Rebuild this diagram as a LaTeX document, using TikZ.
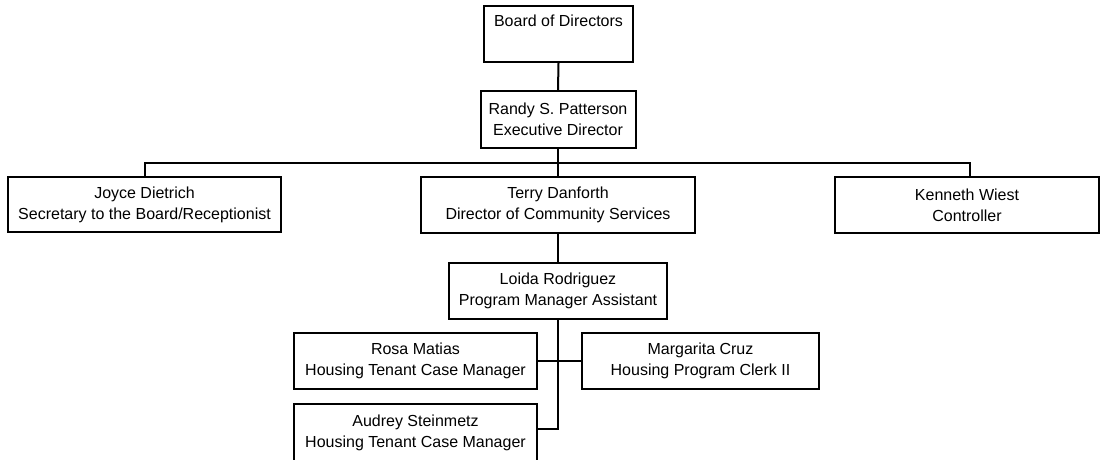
\documentclass[tikz,border=0pt]{standalone}
\usepackage{fontspec}
\setmainfont{Liberation Sans}
\begin{document}
\begin{tikzpicture}[x=1pt,y=-1pt,
  box/.style={draw, rectangle, line width=2pt, inner sep=0pt, align=center,
    font=\fontsize{16}{21}\selectfont},
  link/.style={draw, line width=2pt}]
\useasboundingbox (0,0) rectangle (1101,459);
\clip (0,0) rectangle (1101,459);
\node[box, minimum width=149pt, minimum height=56pt] (board) at (558.5,34) {Board of Directors\\\strut};
\node[box, minimum width=155pt, minimum height=57pt] (randy) at (558,119.5) {Randy S. Patterson\\Executive Director};
\node[box, minimum width=273pt, minimum height=55pt] (joyce) at (144.5,204.5) {Joyce Dietrich\\Secretary to the Board/Receptionist};
\node[box, minimum width=274pt, minimum height=56pt] (terry) at (558,205) {Terry Danforth\\Director of Community Services};
\node[box, minimum width=264pt, minimum height=56pt] (kenneth) at (967,205) {Kenneth Wiest\\Controller};
\node[box, minimum width=218pt, minimum height=56pt] (loida) at (558,291) {Loida Rodriguez\\Program Manager Assistant};
\node[box, minimum width=243pt, minimum height=56pt] (rosa) at (415.5,361) {Rosa Matias\\Housing Tenant Case Manager};
\node[box, minimum width=237pt, minimum height=56pt] (marg) at (700.5,361) {Margarita Cruz\\Housing Program Clerk II};
\node[box, minimum width=243pt, minimum height=58pt] (audrey) at (415.5,433) {Audrey Steinmetz\\Housing Tenant Case Manager};
\coordinate (bus) at (558,163);
\path[link] (board.south) -- (randy.north);
\path[link] (randy.south) -- (terry.north);
\path[link] (joyce.north) |- (bus) -| ([xshift=3pt]kenneth.north);
\path[link] (terry.south) -- (loida.north);
\path[link] (rosa.east) -- (marg.west);
\path[link] (loida.south) |- ([yshift=4pt]audrey.east);
\end{tikzpicture}
\end{document}
